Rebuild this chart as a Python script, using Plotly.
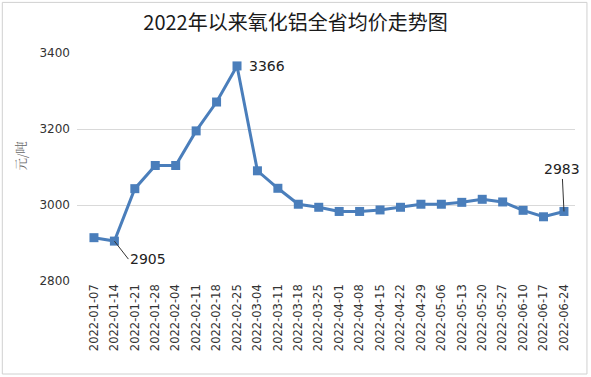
import plotly.graph_objects as go

dates = ["2022-01-07","2022-01-14","2022-01-21","2022-01-28","2022-02-04","2022-02-11",
         "2022-02-18","2022-02-25","2022-03-04","2022-03-11","2022-03-18","2022-03-25",
         "2022-04-01","2022-04-08","2022-04-15","2022-04-22","2022-04-29","2022-05-06",
         "2022-05-13","2022-05-20","2022-05-27","2022-06-10","2022-06-17","2022-06-24"]
prices = [2914, 2905, 3043, 3104, 3104, 3195, 3271, 3366, 3090, 3044, 3002, 2994,
          2983, 2983, 2987, 2994, 3002, 3002, 3007, 3015, 3008, 2986, 2969, 2983]
y_ticks = [2800, 3000, 3200, 3400]

color = "#4a7ebb"
fig = go.Figure()
fig.add_trace(go.Scatter(
    x=dates, y=prices, mode="lines+markers",
    line=dict(color=color, width=3),
    marker=dict(symbol="square", size=9, color=color),
    showlegend=False,
))

font = "Noto Sans CJK SC, Open Sans, sans-serif"
fig.update_layout(
    width=591, height=377,
    margin=dict(l=77, r=16, t=53, b=96),
    paper_bgcolor="white", plot_bgcolor="white",
    title=dict(text="2022年以来氧化铝全省均价走势图", x=0.5, xanchor="center",
               y=0.94, yanchor="middle",
               font=dict(family=font, size=20, color="#1a1a1a")),
    font=dict(family=font, size=12, color="#333333"),
    xaxis=dict(type="category", tickangle=-90, range=[-0.83, 23.54],
               showgrid=False, showline=False, ticks="",
               tickfont=dict(family="DejaVu Sans, sans-serif", size=11.5, color="#333333")),
    yaxis=dict(range=[2800, 3400], tickvals=y_ticks, showgrid=True, gridcolor="#d9d9d9",
               zeroline=False, showline=False, ticks="", ticklabelstandoff=6,
               tickfont=dict(family="DejaVu Sans, sans-serif", size=12, color="#333333")),
    shapes=[dict(type="rect", xref="paper", yref="paper", x0=-0.150, x1=1.024, y0=-0.408, y1=1.222,
                 line=dict(color="#d0d0d0", width=1))],
)

fig.add_annotation(text="元/吨", xref="paper", yref="paper", x=-0.1124, y=0.55,
                   textangle=-90, showarrow=False, xanchor="center", yanchor="middle",
                   font=dict(family="Noto Serif CJK SC, Noto Sans CJK SC", size=12.5, color="#666666"))

i_min = prices.index(min(prices[:5]))
i_max = prices.index(max(prices))
i_last = len(prices) - 1
fig.add_annotation(x=dates[i_max], y=prices[i_max], text=str(prices[i_max]), showarrow=False,
                   xanchor="left", xshift=10, yshift=0, font=dict(family="DejaVu Sans", size=14, color="#222"))
fig.add_annotation(x=dates[i_min], y=prices[i_min], text=str(prices[i_min]), showarrow=True,
                   arrowhead=0, arrowwidth=1, arrowcolor="#333", ax=14, ay=18, xanchor="left",
                   font=dict(family="DejaVu Sans", size=14, color="#222"))
fig.add_annotation(x=dates[i_last], y=prices[i_last], text=str(prices[i_last]), showarrow=True,
                   arrowhead=0, arrowwidth=1, arrowcolor="#333", ax=-2, ay=-42,
                   font=dict(family="DejaVu Sans", size=14, color="#222"))

fig.write_html("out.html")
